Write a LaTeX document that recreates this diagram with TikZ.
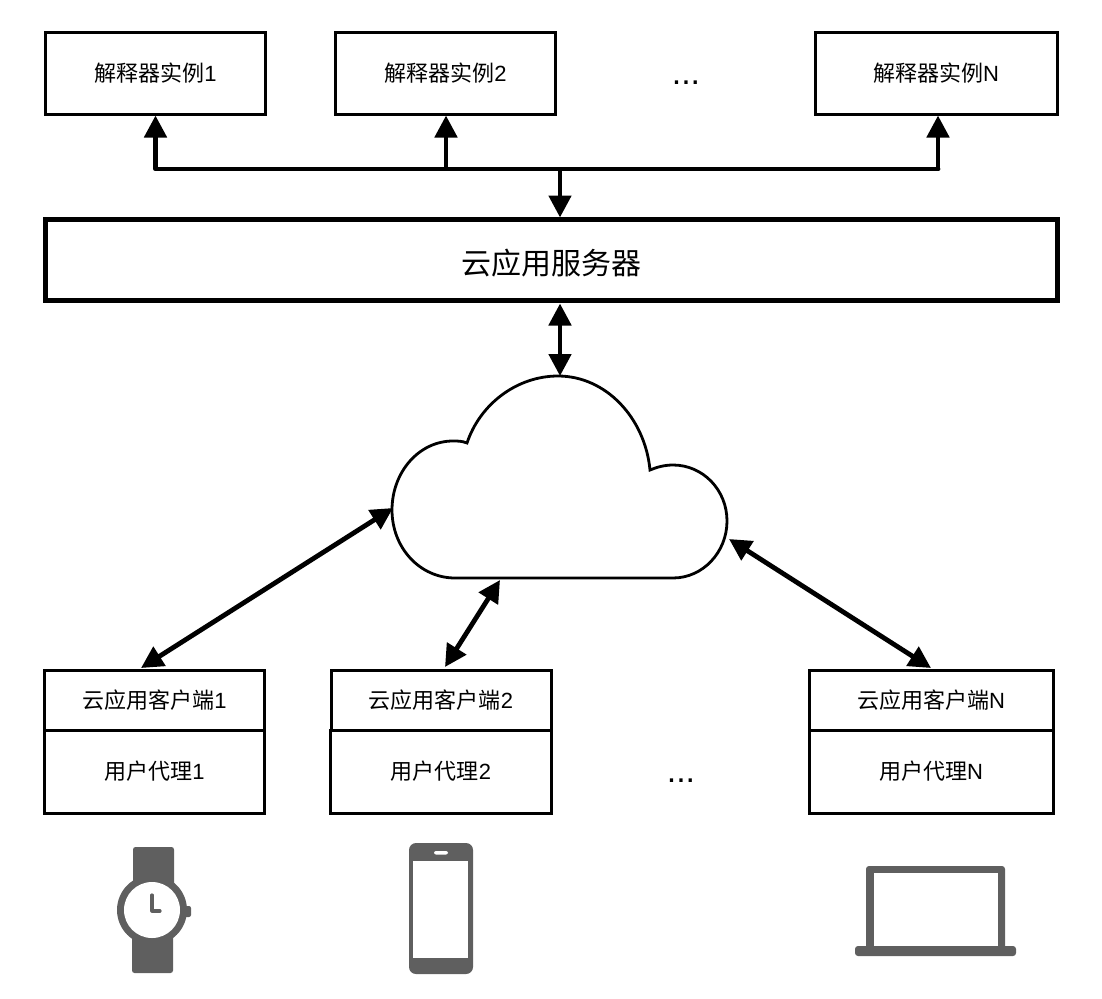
\documentclass[tikz,border=0pt]{standalone}
\usepackage{fontspec}
\setmainfont{Liberation Sans}
\newfontfamily\cjk{Noto Sans CJK SC}
\usetikzlibrary{arrows.meta,positioning}
\definecolor{icongray}{HTML}{5F5F5F}
\tikzset{
  box/.style={draw=black,line width=3pt,fill=white,inner sep=0pt,outer sep=0pt,font=\fontsize{22}{24}\selectfont},
  bigbox/.style={box,line width=4.8pt,font=\fontsize{30}{34}\selectfont},
  conn/.style={draw=black,line width=4.8pt,-{Triangle[width=22pt,length=22pt]}},
  biconn/.style={draw=black,line width=4.8pt,{Triangle[width=22pt,length=22pt]}-{Triangle[width=22pt,length=22pt]}},
  bus/.style={draw=black,line width=4.8pt,line cap=round},
  icon/.style={fill=icongray,draw=none},
  hole/.style={fill=white,draw=none},
  dots/.style={font=\fontsize{34}{38}\selectfont,inner sep=0pt}
}
\begin{document}
\begin{tikzpicture}[x=1pt,y=-1pt]
\useasboundingbox (0,0) rectangle (1102,998);
% top boxes
\node[box,minimum width=220pt,minimum height=82pt] (i1) at (155.5,73.5) {{\cjk 解释器实例}1};
\node[box,minimum width=220pt,minimum height=82pt] (i2) at (445.5,73.5) {{\cjk 解释器实例}2};
\node[box,minimum width=242pt,minimum height=82pt] (iN) at (936,73.5) {{\cjk 解释器实例}N};
\node[dots] (d1) at (686,83) {...};
% server
\node[bigbox,minimum width=1012pt,minimum height=81pt,text height=32pt,text depth=3.6pt] (srv) at (551.5,260) {\cjk 云应用服务器};
% bus
\coordinate (b1) at (155.5,169);
\coordinate (b2) at (446,169);
\coordinate (b3) at (560,169);
\coordinate (bN) at (938,169);
\draw[bus] (b1) -- (bN);
\draw[conn] (b1) -- ([yshift=-1pt]b1 |- i1.south);
\draw[conn] (b2) -- ([yshift=-1pt]b2 |- i2.south);
\draw[conn] (bN) -- ([yshift=-1pt]bN |- iN.south);
\draw[conn] (b3) -- ([yshift=2pt]b3 |- srv.north);
% cloud
\draw[line width=2.8pt,fill=white] (455,578) -- (673,578)
  .. controls (703,578) and (727,552) .. (727,521)
  .. controls (727,490) and (703,465) .. (673,465)
  .. controls (665,465) and (657,467) .. (650,470)
  .. controls (645,418) and (606,376) .. (558,376)
  .. controls (517,376) and (480,404) .. (467,443)
  .. controls (462,441) and (458,441) .. (453,441)
  .. controls (419,441) and (392,472) .. (392,510)
  .. controls (392,548) and (420,578) .. (455,578) -- cycle;
\coordinate (ctop) at (560,376);
\coordinate (cl) at (393,508);
\coordinate (cb) at (500,580);
\coordinate (cr) at (729,539);
% lower boxes
\node[box,minimum width=220pt,minimum height=60pt] (c1) at (154.5,700) {{\cjk 云应用客户端}1};
\node[box,minimum width=220pt,minimum height=83pt] (u1) at (154.5,771.5) {{\cjk 用户代理}1};
\node[box,minimum width=220pt,minimum height=60pt] (c2) at (441,700) {{\cjk 云应用客户端}2};
\node[box,minimum width=221pt,minimum height=83pt] (u2) at (441,771.5) {{\cjk 用户代理}2};
\node[box,minimum width=244pt,minimum height=60pt] (cN) at (931,700) {{\cjk 云应用客户端}N};
\node[box,minimum width=244pt,minimum height=83pt] (uN) at (931,771.5) {{\cjk 用户代理}N};
\node[dots] (d2) at (681,781) {...};
% connectors
\draw[biconn] ([yshift=-3pt]srv.south -| ctop) -- (ctop);
\coordinate (c1t) at (141,668);
\coordinate (c2t) at (445,667);
\coordinate (cNt) at (931,668);
\draw[biconn] (cl) -- (c1t);
\draw[biconn] (cb) -- (c2t);
\draw[biconn] (cr) -- (cNt);
% watch
\fill[icon,rounded corners=2.5pt] (133,847) rectangle (174,890);
\fill[icon,rounded corners=2.5pt] (132,930) rectangle (173,973);
\fill[icon,rounded corners=2pt] (183,906) rectangle (191,917);
\fill[icon] (152,910) circle[radius=35];
\fill[hole] (152,910) circle[radius=28];
\draw[icongray,line width=3.2pt,line join=round,line cap=round] (152,895) -- (152,911) -- (160,911);
% phone
\fill[icon,rounded corners=7pt] (409,843) rectangle (473,974);
\fill[hole] (413,861) rectangle (468,958);
\fill[hole,rounded corners=2pt] (434,851) rectangle (448,854.5);
% laptop
\fill[icon,rounded corners=3pt] (866,866) rectangle (1005,950);
\fill[hole] (874,873) rectangle (998,947);
\fill[icon,rounded corners=3pt] (855,946) rectangle (1016,956);
\end{tikzpicture}
\end{document}
